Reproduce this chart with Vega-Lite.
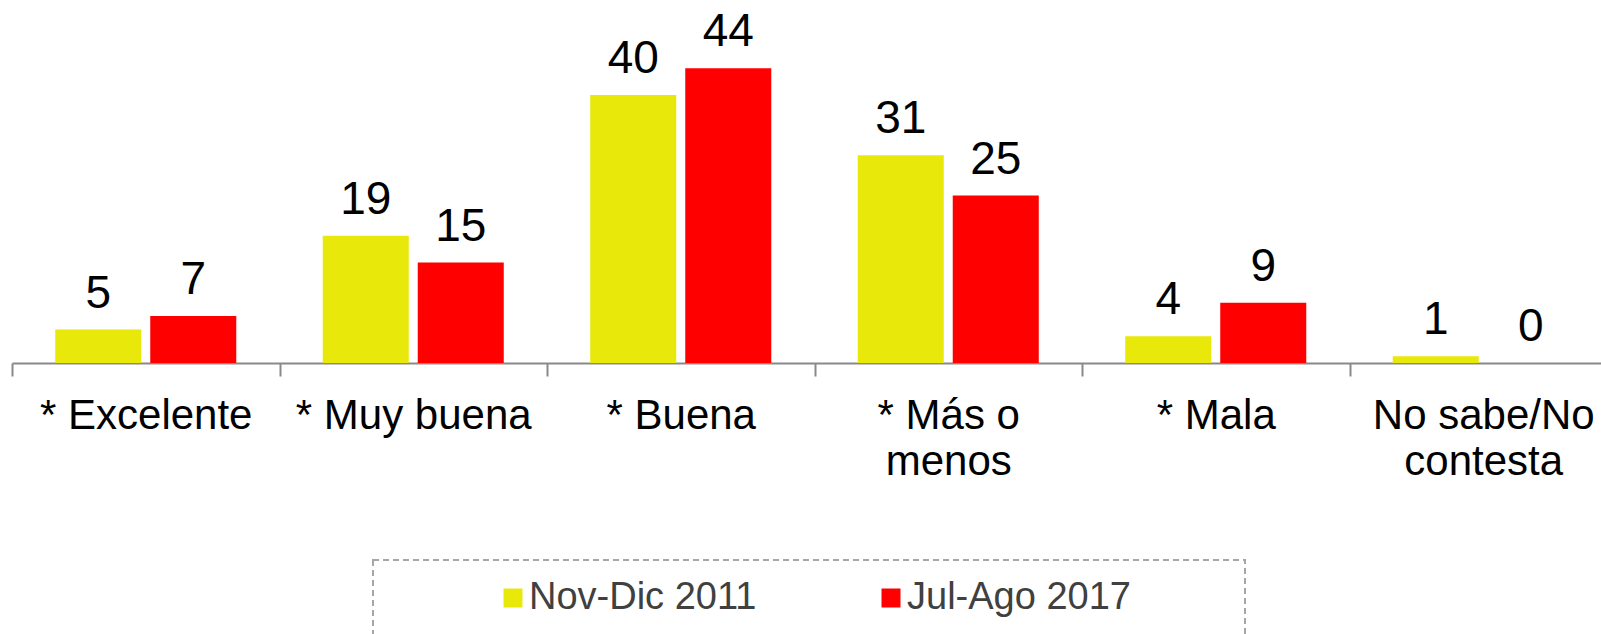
{
  "$schema": "https://vega.github.io/schema/vega-lite/v6.json",
  "width": 1589,
  "height": 335,
  "autosize": {"type": "none"},
  "padding": {"left": 12, "top": 28, "right": 0, "bottom": 271},
  "config": {"view": {"stroke": null}, "font": "Liberation Sans"},
  "data": {
    "values": [
      {"cat": "* Excelente", "series": "Nov-Dic 2011", "value": 5},
      {"cat": "* Excelente", "series": "Jul-Ago 2017", "value": 7},
      {"cat": "* Muy buena", "series": "Nov-Dic 2011", "value": 19},
      {"cat": "* Muy buena", "series": "Jul-Ago 2017", "value": 15},
      {"cat": "* Buena", "series": "Nov-Dic 2011", "value": 40},
      {"cat": "* Buena", "series": "Jul-Ago 2017", "value": 44},
      {"cat": "* Más o|menos", "series": "Nov-Dic 2011", "value": 31},
      {"cat": "* Más o|menos", "series": "Jul-Ago 2017", "value": 25},
      {"cat": "* Mala", "series": "Nov-Dic 2011", "value": 4},
      {"cat": "* Mala", "series": "Jul-Ago 2017", "value": 9},
      {"cat": "No sabe/No|contesta", "series": "Nov-Dic 2011", "value": 1},
      {"cat": "No sabe/No|contesta", "series": "Jul-Ago 2017", "value": 0}
    ]
  },
  "encoding": {
    "x": {
      "field": "cat",
      "type": "nominal",
      "sort": null,
      "scale": {"range": [0, 1605], "paddingInner": 0, "paddingOuter": 0},
      "axis": {
        "title": null,
        "domainColor": "#898989",
        "domainWidth": 2,
        "tickColor": "#898989",
        "tickWidth": 2,
        "tickSize": 13,
        "tickBand": "extent",
        "labelFont": "Liberation Sans",
        "labelFontSize": 42,
        "labelColor": "#000000",
        "labelPadding": 19,
        "labelLimit": 400,
        "labelLineHeight": 46,
        "labelOverlap": false,
        "labelAngle": 0,
        "labelExpr": "split(datum.label, '|')"
      }
    },
    "xOffset": {
      "field": "series",
      "type": "nominal",
      "sort": ["Nov-Dic 2011", "Jul-Ago 2017"],
      "scale": {"paddingInner": 0.0947, "paddingOuter": 0.455}
    },
    "y": {
      "field": "value",
      "type": "quantitative",
      "scale": {"domain": [0, 50]},
      "axis": null
    }
  },
  "layer": [
    {
      "mark": {"type": "bar"},
      "encoding": {
        "color": {
          "field": "series",
          "type": "nominal",
          "scale": {"domain": ["Nov-Dic 2011", "Jul-Ago 2017"], "range": ["#E8E80A", "#FF0000"]},
          "legend": {
            "orient": "none",
            "legendX": 361,
            "legendY": 532,
            "direction": "horizontal",
            "columns": 2,
            "title": "\u00a0",
            "titleOrient": "left",
            "titleFontSize": 2,
            "titlePadding": 102,
            "padding": 19,
            "symbolType": "square",
            "symbolSize": 361,
            "symbolStrokeWidth": 0,
            "labelFont": "Liberation Sans",
            "labelFontSize": 38,
            "labelColor": "#404040",
            "labelOffset": -3,
            "labelLimit": 600,
            "columnPadding": 115,
            "strokeColor": "#a6a6a6",
            "labelExpr": "datum.label == 'Jul-Ago 2017' ? datum.label + '\u00a0\u00a0\u00a0\u00a0\u00a0\u00a0\u00a0\u00a0\u00a0\u200b' : datum.label",
            "encode": {
              "legend": {
                "update": {
                  "strokeDash": {"value": [6, 4]},
                  "strokeWidth": {"value": 2}
                }
              }
            }
          }
        }
      }
    },
    {
      "mark": {"type": "text", "dy": -22, "fontSize": 46, "baseline": "alphabetic", "font": "Liberation Sans", "color": "#000000"},
      "encoding": {"text": {"field": "value", "type": "quantitative"}}
    }
  ]
}
